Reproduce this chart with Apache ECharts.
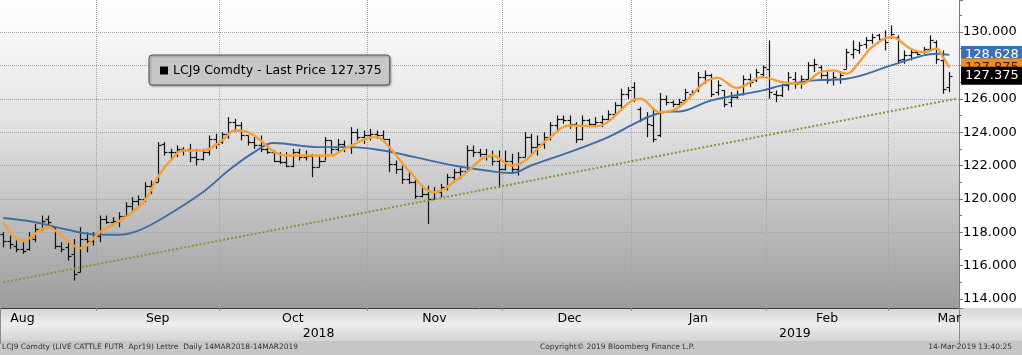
<!DOCTYPE html>
<html>
<head>
<meta charset="utf-8">
<script src="https://cdn.jsdelivr.net/npm/echarts@6/dist/echarts.min.js"></script>
<style>
html,body{margin:0;padding:0;background:#fff;}
#c{width:1022px;height:355px;}
</style>
</head>
<body>
<div id="c"></div>
<script>
// ---- trading days (categories) ----
const augDays = [13,14,15,16,17,20,21,22,23,24,27,28,29,30,31];
const sepDays = [4,5,6,7,10,11,12,13,14,17,18,19,20,21,24,25,26,27,28];
const octDays = [1,2,3,4,5,8,9,10,11,12,15,16,17,18,19,22,23,24,25,26,29,30,31];
const novDays = [1,2,5,6,7,8,9,12,13,14,15,16,19,20,21,23,26,27,28,29,30];
const decDays = [3,4,5,6,7,10,11,12,13,14,17,18,19,20,21,24,26,27,28,31];
const janDays = [2,3,4,7,8,9,10,11,14,15,16,17,18,22,23,24,25,28,29,30,31];
const febDays = [1,4,5,6,7,8,11,12,13,14,15,19,20,21,22,25,26,27,28];
const marDays = [1,4,5,6,7,8,11,12,13,14,15];

// ---- OHLC values ----
const opens = [
 117.9,117.5,117.2,117.0,117.0,117.6,118.2,118.8,118.3,117.2,117.1,116.7,115.6,117.6,117.5,
 117.8,118.8,118.6,118.6,119.0,119.6,119.9,120.0,120.8,121.0,123.3,122.8,122.8,123.0,123.0,122.5,122.4,122.8,123.6,
 123.4,123.9,124.6,124.4,123.8,123.4,123.2,123.0,122.8,122.3,122.2,122.0,122.8,122.5,122.6,121.9,122.3,123.5,123.0,123.3,123.1,124.0,123.7,
 123.8,123.9,123.8,123.6,122.1,121.8,121.2,121.0,120.2,120.3,120.0,120.4,120.7,121.3,121.6,121.7,122.9,122.8,122.7,122.6,122.3,
 121.8,122.3,121.8,122.5,123.7,123.1,123.3,123.7,124.4,124.8,124.7,124.5,123.6,124.7,124.5,124.6,124.8,125.1,125.6,126.3,
 126.7,125.4,124.9,124.4,123.8,126.0,125.8,125.7,125.9,126.3,126.5,127.3,127.4,126.4,126.5,125.8,126.1,126.3,127.2,127.1,127.5,
 127.8,126.3,126.2,126.8,127.2,127.0,127.2,128.0,127.9,127.4,127.2,127.2,127.8,128.7,128.9,129.3,129.5,129.8,129.6,
 129.7,129.7,128.4,128.6,128.8,128.8,129.0,129.4,128.3,126.7
];
const highs = [
 118.0,117.8,117.5,117.4,118.0,118.5,119.0,119.0,118.3,117.4,117.4,117.6,118.3,118.0,118.0,
 119.0,119.0,118.9,119.2,119.8,120.1,120.2,121.0,121.1,123.4,123.4,123.0,123.2,123.1,123.3,123.0,123.0,123.8,123.9,
 124.0,124.9,124.8,124.6,123.8,123.7,123.8,123.3,122.9,122.8,122.8,123.0,123.0,122.9,122.7,122.6,123.7,123.5,123.6,123.5,124.3,124.2,124.1,
 124.2,124.1,124.1,123.6,122.3,122.0,121.6,121.2,120.8,120.8,120.7,120.9,121.5,121.8,121.9,123.2,123.2,123.0,123.0,122.9,122.9,
 122.9,122.7,122.8,124.0,123.9,123.8,124.0,124.6,125.0,125.0,125.0,124.6,125.0,124.8,124.9,125.0,125.3,125.8,126.6,126.7,
 127.0,125.5,125.2,125.4,126.35,126.2,125.9,126.0,126.6,126.5,127.6,127.7,127.5,127.1,126.5,126.4,126.5,127.4,127.5,127.8,128.0,
 129.5,126.5,126.9,127.6,127.6,127.4,128.2,128.4,128.0,127.7,127.6,127.6,129.0,129.5,129.4,129.7,129.9,129.9,130.1,
 130.4,129.8,128.9,129.0,128.9,129.1,129.8,129.5,128.9,127.6
];
const lows = [
 117.1,117.0,116.8,116.7,116.9,117.4,118.1,118.4,117.0,116.8,116.3,115.1,115.6,116.8,117.2,
 117.4,118.5,118.4,118.3,118.9,119.3,119.5,119.8,120.3,121.0,122.6,122.4,122.5,122.6,122.2,122.0,122.3,122.6,123.0,
 123.3,123.6,124.0,123.5,123.2,123.0,122.8,122.7,122.2,122.1,121.9,121.9,122.3,122.3,121.3,121.9,122.3,122.7,122.8,122.8,122.7,123.5,123.3,
 123.5,123.6,123.4,121.6,121.5,120.9,120.9,120.0,120.1,118.5,120.0,120.1,120.5,121.0,121.2,121.7,122.5,122.5,122.3,122.0,120.65,
 121.7,121.5,121.4,122.5,122.7,122.6,123.0,123.5,124.0,124.5,124.2,123.35,123.5,124.3,124.4,124.3,124.7,125.1,125.3,126.0,
 125.8,124.6,123.7,123.4,123.7,125.6,125.5,125.5,125.9,126.2,126.4,126.9,126.1,126.2,125.5,125.5,126.0,126.2,126.7,127.0,127.25,
 126.0,125.8,126.1,126.5,126.6,126.6,127.1,127.6,127.2,126.9,126.8,126.9,127.8,128.4,128.7,129.0,129.3,129.5,128.9,
 129.6,128.1,128.1,128.3,128.6,128.7,128.9,128.1,126.3,126.4
];
const closes = [
 117.5,117.3,117.0,116.9,117.7,118.2,118.7,118.6,117.2,117.0,116.6,115.5,117.6,117.5,117.8,
 118.8,118.6,118.7,119.0,119.6,119.9,120.0,120.8,120.9,123.2,122.8,122.8,123.0,122.9,122.5,122.4,122.8,123.6,123.3,
 123.9,124.6,124.4,123.8,123.4,123.2,123.0,122.8,122.3,122.2,122.0,122.8,122.5,122.6,121.9,122.3,123.5,123.0,123.3,123.1,124.0,123.7,123.8,
 123.9,123.8,123.6,122.1,121.8,121.2,121.0,120.2,120.3,120.0,120.4,120.7,121.3,121.6,121.7,122.9,122.8,122.7,122.6,122.3,121.8,
 122.3,121.8,122.5,123.7,123.1,123.3,123.7,124.4,124.8,124.7,124.5,123.6,124.7,124.5,124.6,124.8,125.1,125.6,126.3,126.5,
 126.0,124.8,124.5,123.6,126.0,125.8,125.7,125.8,126.4,126.4,127.3,127.4,126.3,126.8,125.7,126.1,126.3,127.2,127.0,127.6,127.9,
 126.4,126.2,126.8,127.3,126.9,127.2,128.0,128.1,127.4,127.1,127.3,127.4,128.8,129.0,129.2,129.5,129.7,129.6,129.4,
 129.9,128.3,128.6,128.8,128.7,129.0,129.5,128.4,126.6,127.375
];

// ---- moving averages: [bar index, value] ----
const maShort = [
 [0,118.6],[3,117.5],[7,118.3],[9,117.8],[12,117.05],[15,118.0],[19,118.9],[22,119.9],[24,121.3],[26,122.3],
 [28,122.9],[31,122.9],[34,123.5],[36,124.1],[38,124.0],[44,122.6],[51,122.6],[53,123.0],[58,123.7],[60,123.1],
 [63,121.7],[67,120.4],[71,121.3],[76,122.6],[79,122.0],[85,123.7],[88,124.4],[92,124.35],[99,126.0],[102,125.2],
 [104,125.3],[111,127.25],[114,126.65],[118,127.3],[121,127.0],[124,126.9],[127,127.6],[129,127.7],[131,127.5],
 [133,128.2],[135,129.1],[138,129.7],[141,129.0],[143,128.8],[145,129.0],[146,128.5],[147,127.875]
];
const maLong = [
 [0,118.85],[5,118.6],[10,118.15],[15,117.85],[18,117.85],[21,118.1],[25,118.9],[31,120.4],[35,121.7],[39,122.8],
 [42,123.35],[49,123.1],[54,123.1],[59,122.9],[64,122.5],[70,122.0],[75,121.7],[79,121.55],[82,122.0],[88,122.8],
 [94,123.7],[98,124.5],[102,125.15],[106,125.3],[110,125.9],[118,126.5],[121,126.8],[126,127.1],[131,127.2],
 [138,128.0],[143,128.6],[145,128.7],[147,128.628]
];
const trendPts = [[0,115.0],[148,126.0]];

// ---- labels ----
const monthLabels = ['Aug','Sep','Oct','Nov','Dec','Jan','Feb','Mar'];
const monthLabelIdx = [3,24,45,67,88,108,128,147];
const yearLabels = ['2018','2019'];
const yearLabelIdx = [49,123];
const footerLeft = 'LCJ9 Comdty (LIVE CATTLE FUTR  Apr19) Lettre  Daily 14MAR2018-14MAR2019';
const footerMid = 'Copyright\u00A9 2019 Bloomberg Finance L.P.';
const footerRight = '14-Mar-2019 13:40:25';

const pad = d => (d < 10 ? '0' : '') + d;
const dates = [].concat(
  augDays.map(d => '2018-08-' + pad(d)), sepDays.map(d => '2018-09-' + pad(d)),
  octDays.map(d => '2018-10-' + pad(d)), novDays.map(d => '2018-11-' + pad(d)),
  decDays.map(d => '2018-12-' + pad(d)), janDays.map(d => '2019-01-' + pad(d)),
  febDays.map(d => '2019-02-' + pad(d)), marDays.map(d => '2019-03-' + pad(d))
);
const monthStarts = new Set();
for (let i = 1; i < dates.length; i++) if (dates[i].slice(0, 7) !== dates[i - 1].slice(0, 7)) monthStarts.add(i);
const yearStart = dates.findIndex(d => d.startsWith('2019'));

const ohlc = closes.map((c, i) => [i, opens[i], highs[i], lows[i], c]);
const lastIdx = closes.length - 1;
const lastPrice = closes[lastIdx];
const shortLast = maShort[maShort.length - 1][1];
const longLast = maLong[maLong.length - 1][1];
const seriesName = 'LCJ9 Comdty - Last Price ' + lastPrice.toFixed(3);
const FONT = 'DejaVu Sans';

function renderOHLC(params, api) {
  const i = api.value(0);
  const pO = api.coord([i, api.value(1)]);
  const pH = api.coord([i, api.value(2)]);
  const pL = api.coord([i, api.value(3)]);
  const pC = api.coord([i, api.value(4)]);
  const x = Math.round(pO[0]) + 0.5;
  const w = 3;
  const st = { stroke: '#111111', lineWidth: 1.2 };
  const yo = Math.round(pO[1]) + 0.5, yc = Math.round(pC[1]) + 0.5;
  return { type: 'group', children: [
    { type: 'line', shape: { x1: x, y1: pH[1], x2: x, y2: pL[1] }, style: st },
    { type: 'line', shape: { x1: x - w, y1: yo, x2: x, y2: yo }, style: st },
    { type: 'line', shape: { x1: x, y1: yc, x2: x + w, y2: yc }, style: st }
  ]};
}

function tag(value, bg, fg) {
  return {
    silent: true, symbol: ['none', 'none'], animation: false, precision: 3,
    lineStyle: { width: 1, color: 'rgba(0,0,0,0)', opacity: 1 },
    label: { show: true, position: 'end', distance: 2, opacity: 1, formatter: () => value.toFixed(3),
      color: fg, backgroundColor: bg, padding: [3, 4, 2, 4], fontSize: 13, fontFamily: FONT },
    emphasis: { disabled: true },
    data: [{ yAxis: value }]
  };
}

const chart = echarts.init(document.getElementById('c'), null, { renderer: 'canvas' });
chart.setOption({
  animation: false,
  backgroundColor: '#ffffff',
  graphic: [
    { type: 'rect', z: -10, shape: { x: 0, y: 308, width: 1022, height: 33 },
      style: { fill: new echarts.graphic.LinearGradient(0, 0, 0, 1, [
        { offset: 0, color: '#d6d6d6' }, { offset: 0.5, color: '#ededed' }, { offset: 1, color: '#d4d4d4' }]) } },
    { type: 'rect', z: -10, shape: { x: 0, y: 341, width: 1022, height: 14 },
      style: { fill: '#c6c6c6' } }
  ],
  title: [
    { text: footerLeft, left: 2, top: 343, padding: 0, textStyle: { fontSize: 7.5, fontWeight: 'normal', color: '#333', fontFamily: FONT } },
    { text: footerMid, left: 540, top: 343, padding: 0, textStyle: { fontSize: 7.5, fontWeight: 'normal', color: '#333', fontFamily: FONT } },
    { text: footerRight, right: 10, top: 343, padding: 0, textStyle: { fontSize: 7.5, fontWeight: 'normal', color: '#333', fontFamily: FONT } }
  ],
  legend: {
    data: [seriesName], left: 149, top: 55, padding: [9, 8, 8, 11], itemWidth: 8, itemHeight: 8,
    icon: 'rect', selectedMode: false, backgroundColor: '#c6c6c6', borderColor: '#555', borderWidth: 1,
    borderRadius: 3, shadowBlur: 2, shadowColor: 'rgba(0,0,0,0.35)', shadowOffsetX: 1, shadowOffsetY: 1,
    textStyle: { fontSize: 12.5, color: '#000', fontFamily: FONT }
  },
  grid: {
    left: 0, right: 63, top: 0, bottom: 47, show: true, borderWidth: 0,
    backgroundColor: new echarts.graphic.LinearGradient(0, 0, 0, 1, [
      { offset: 0, color: '#ffffff' }, { offset: 0.4, color: '#e2e2e2' }, { offset: 1, color: '#9c9c9c' }])
  },
  xAxis: [
    { type: 'category', data: dates, boundaryGap: true,
      axisLine: { lineStyle: { color: '#3c3c3c', width: 1 } },
      axisTick: { show: true, interval: i => monthStarts.has(i), length: 3, lineStyle: { color: '#8c8c8c' } },
      axisLabel: { interval: i => monthLabelIdx.includes(i), formatter: (v, i) => monthLabels[monthLabelIdx.indexOf(i)] || '',
        margin: 4, fontSize: 12.5, color: '#000', fontFamily: FONT },
      splitLine: { show: true, interval: i => monthStarts.has(i), lineStyle: { type: 'dotted', color: '#a4a4a4' } } },
    { type: 'category', data: dates, boundaryGap: true, position: 'bottom',
      axisLine: { show: false },
      axisTick: { show: true, interval: i => i === yearStart, length: 36, lineStyle: { color: '#8c8c8c' } },
      axisLabel: { interval: i => yearLabelIdx.includes(i), formatter: (v, i) => yearLabels[yearLabelIdx.indexOf(i)] || '',
        margin: 19, fontSize: 12.5, color: '#000', fontFamily: FONT },
      splitLine: { show: false } }
  ],
  yAxis: {
    type: 'value', position: 'right', min: 113.46, max: 131.92, splitNumber: 9,
    axisLine: { show: true, lineStyle: { color: '#7a7a7a' } },
    axisTick: { show: true, length: 4, lineStyle: { color: '#7a7a7a' } },
    minorTick: { show: true, splitNumber: 2, length: 3, lineStyle: { color: '#7a7a7a' } },
    axisLabel: { margin: 4, fontSize: 13, color: '#000', fontFamily: FONT, showMinLabel: false, showMaxLabel: false,
      formatter: v => (Math.abs(v / 2 - Math.round(v / 2)) < 1e-6 ? v.toFixed(3) : '') },
    splitLine: { show: true, showMinLine: false, showMaxLine: false, lineStyle: { type: 'dotted', color: '#a4a4a4' } }
  },
  series: [
    { name: seriesName, type: 'custom', renderItem: renderOHLC, data: ohlc, clip: true,
      encode: { x: 0, y: [1, 2, 3, 4] }, itemStyle: { color: '#000' }, z: 2 },
    { name: 'trend', type: 'line', data: trendPts, showSymbol: false, symbol: 'none',
      lineStyle: { color: '#7a9c35', width: 2, type: [2, 2] }, z: 3 },
    { name: 'maLong', type: 'line', data: maLong, smooth: 0.4, showSymbol: false, symbol: 'none',
      lineStyle: { color: '#3d6ea6', width: 1.9 }, z: 4, markLine: tag(longLast, '#3b70b4', '#ffffff') },
    { name: 'maShort', type: 'line', data: maShort, smooth: 0.4, showSymbol: false, symbol: 'none',
      lineStyle: { color: '#f4a035', width: 2.4 }, z: 5, markLine: tag(shortLast, '#f08c1e', '#3a2000') },
    { name: 'last', type: 'line', data: [[lastIdx, lastPrice]], showSymbol: false, symbol: 'none',
      lineStyle: { width: 0 }, z: 6, markLine: tag(lastPrice, '#000000', '#ffffff') }
  ]
});
</script>
</body>
</html>
